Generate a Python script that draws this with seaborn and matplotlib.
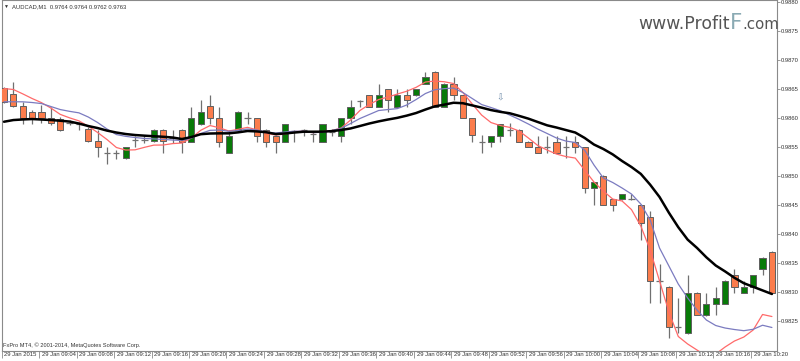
import matplotlib
matplotlib.use("Agg")
import matplotlib.pyplot as plt
import matplotlib.transforms as mtransforms
import numpy as np
import pandas as pd
import seaborn as sns

# ---------------- data ----------------
time_labels = ["29 Jan 2015", "29 Jan 09:04", "29 Jan 09:08", "29 Jan 09:12", "29 Jan 09:16",
               "29 Jan 09:20", "29 Jan 09:24", "29 Jan 09:28", "29 Jan 09:32", "29 Jan 09:36",
               "29 Jan 09:40", "29 Jan 09:44", "29 Jan 09:48", "29 Jan 09:52", "29 Jan 09:56",
               "29 Jan 10:00", "29 Jan 10:04", "29 Jan 10:08", "29 Jan 10:12", "29 Jan 10:16",
               "29 Jan 10:20"]
label_bars = list(range(0, 81, 4))

opens = [0.98651, 0.98641, 0.98620, 0.98610, 0.98610, 0.98599, 0.98598, 0.98591, 0.98589, 0.98580,
         0.98560, 0.98540, 0.98539, 0.98530, 0.98562, 0.98562, 0.98560, 0.98579, 0.98566, 0.98579,
         0.98559, 0.98589, 0.98620, 0.98599, 0.98540, 0.98579, 0.98599, 0.98599, 0.98579, 0.98569,
         0.98559, 0.98578, 0.98579, 0.98573, 0.98559, 0.98576, 0.98569, 0.98599, 0.98629, 0.98639,
         0.98619, 0.98649, 0.98619, 0.98639, 0.98639, 0.98659, 0.98679, 0.98619, 0.98659, 0.98639,
         0.98599, 0.98559, 0.98559, 0.98569, 0.98579, 0.98579, 0.98559, 0.98549, 0.98549, 0.98559,
         0.98549, 0.98559, 0.98549, 0.98479, 0.98500, 0.98460, 0.98460, 0.98461, 0.98450, 0.98430,
         0.98319, 0.98309, 0.98239, 0.98229, 0.98299, 0.98260, 0.98280, 0.98280, 0.98329, 0.98299,
         0.98309, 0.98339, 0.98369]
highs = [0.98653, 0.98661, 0.98628, 0.98613, 0.98622, 0.98619, 0.98602, 0.98596, 0.98593, 0.98585,
         0.98579, 0.98549, 0.98545, 0.98550, 0.98569, 0.98570, 0.98580, 0.98580, 0.98579, 0.98580,
         0.98619, 0.98630, 0.98639, 0.98619, 0.98579, 0.98612, 0.98610, 0.98600, 0.98580, 0.98570,
         0.98590, 0.98579, 0.98580, 0.98576, 0.98590, 0.98580, 0.98600, 0.98630, 0.98630, 0.98640,
         0.98659, 0.98650, 0.98649, 0.98649, 0.98650, 0.98679, 0.98680, 0.98660, 0.98670, 0.98640,
         0.98600, 0.98570, 0.98569, 0.98590, 0.98591, 0.98580, 0.98560, 0.98569, 0.98569, 0.98569,
         0.98569, 0.98569, 0.98550, 0.98490, 0.98501, 0.98461, 0.98469, 0.98469, 0.98451, 0.98440,
         0.98349, 0.98310, 0.98289, 0.98329, 0.98300, 0.98299, 0.98309, 0.98320, 0.98339, 0.98319,
         0.98330, 0.98360, 0.98370]
lows = [0.98626, 0.98619, 0.98589, 0.98589, 0.98591, 0.98588, 0.98578, 0.98588, 0.98579, 0.98559,
        0.98533, 0.98520, 0.98529, 0.98529, 0.98549, 0.98556, 0.98559, 0.98540, 0.98556, 0.98540,
        0.98558, 0.98588, 0.98589, 0.98549, 0.98539, 0.98578, 0.98589, 0.98559, 0.98549, 0.98540,
        0.98558, 0.98559, 0.98569, 0.98559, 0.98558, 0.98569, 0.98559, 0.98589, 0.98619, 0.98619,
        0.98618, 0.98610, 0.98618, 0.98619, 0.98638, 0.98658, 0.98619, 0.98618, 0.98630, 0.98599,
        0.98559, 0.98540, 0.98549, 0.98559, 0.98569, 0.98559, 0.98549, 0.98539, 0.98540, 0.98540,
        0.98530, 0.98540, 0.98470, 0.98450, 0.98450, 0.98440, 0.98459, 0.98459, 0.98390, 0.98281,
        0.98281, 0.98220, 0.98229, 0.98228, 0.98260, 0.98259, 0.98260, 0.98279, 0.98299, 0.98298,
        0.98299, 0.98329, 0.98299]
closes = [0.98628, 0.98620, 0.98599, 0.98600, 0.98600, 0.98591, 0.98579, 0.98591, 0.98589, 0.98560,
          0.98549, 0.98540, 0.98539, 0.98549, 0.98562, 0.98562, 0.98579, 0.98560, 0.98566, 0.98559,
          0.98599, 0.98610, 0.98599, 0.98559, 0.98569, 0.98610, 0.98599, 0.98569, 0.98559, 0.98559,
          0.98589, 0.98578, 0.98579, 0.98573, 0.98589, 0.98576, 0.98599, 0.98619, 0.98629, 0.98619,
          0.98639, 0.98630, 0.98639, 0.98630, 0.98649, 0.98670, 0.98619, 0.98659, 0.98639, 0.98599,
          0.98570, 0.98559, 0.98569, 0.98589, 0.98579, 0.98559, 0.98549, 0.98540, 0.98549, 0.98540,
          0.98549, 0.98549, 0.98479, 0.98490, 0.98450, 0.98450, 0.98469, 0.98461, 0.98419, 0.98319,
          0.98319, 0.98239, 0.98239, 0.98299, 0.98260, 0.98279, 0.98289, 0.98319, 0.98309, 0.98309,
          0.98329, 0.98359, 0.98299]

ma_black = [0.985933, 0.985962, 0.985972, 0.985979, 0.985971, 0.985962, 0.985950, 0.985936, 0.985902, 0.985859,
            0.985824, 0.985780, 0.985747, 0.985721, 0.985704, 0.985693, 0.985683, 0.985674, 0.985661, 0.985635,
            0.985669, 0.985718, 0.985730, 0.985733, 0.985733, 0.985750, 0.985773, 0.985766, 0.985752, 0.985721,
            0.985730, 0.985747, 0.985761, 0.985761, 0.985762, 0.985771, 0.985790, 0.985817, 0.985859, 0.985902,
            0.985939, 0.985971, 0.986000, 0.986038, 0.986083, 0.986143, 0.986198, 0.986227, 0.986260, 0.986252,
            0.986214, 0.986176, 0.986134, 0.986103, 0.986079, 0.986034, 0.985986, 0.985928, 0.985871, 0.985833,
            0.985790, 0.985747, 0.985654, 0.985540, 0.985463, 0.985370, 0.985256, 0.985153, 0.985034, 0.984848,
            0.984636, 0.984365, 0.984116, 0.983902, 0.983759, 0.983597, 0.983456, 0.983354, 0.983244, 0.983151,
            0.983089, 0.983027, 0.982965]
ma_blue = [0.986277, 0.986277, 0.986276, 0.986264, 0.986246, 0.986195, 0.986143, 0.986112, 0.986086, 0.986014,
           0.985919, 0.985807, 0.985712, 0.985681, 0.985661, 0.985645, 0.985637, 0.985628, 0.985618, 0.985609,
           0.985652, 0.985730, 0.985785, 0.985790, 0.985768, 0.985781, 0.985807, 0.985790, 0.985756, 0.985738,
           0.985756, 0.985769, 0.985769, 0.985745, 0.985752, 0.985781, 0.985819, 0.985902, 0.985988, 0.986057,
           0.986126, 0.986143, 0.986159, 0.986221, 0.986315, 0.986419, 0.986484, 0.986503, 0.986513, 0.986436,
           0.986333, 0.986229, 0.986178, 0.986122, 0.986048, 0.985974, 0.985893, 0.985807, 0.985730, 0.985652,
           0.985600, 0.985575, 0.985445, 0.985187, 0.984963, 0.984886, 0.984791, 0.984688, 0.984515, 0.984240,
           0.983757, 0.983447, 0.983137, 0.982896, 0.982689, 0.982517, 0.982422, 0.982379, 0.982353, 0.982333,
           0.982357, 0.982427, 0.982388]
ma_red = [0.986505, 0.986488, 0.986413, 0.986333, 0.986262, 0.986169, 0.986060, 0.986000, 0.985948, 0.985855,
          0.985747, 0.985626, 0.985489, 0.985445, 0.985449, 0.985492, 0.985530, 0.985532, 0.985556, 0.985566,
          0.985652, 0.985785, 0.985867, 0.985829, 0.985773, 0.985802, 0.985836, 0.985794, 0.985733, 0.985704,
          0.985721, 0.985764, 0.985767, 0.985745, 0.985764, 0.985781, 0.985824, 0.985962, 0.986126, 0.986229,
          0.986315, 0.986358, 0.986410, 0.986458, 0.986525, 0.986617, 0.986634, 0.986622, 0.986591, 0.986436,
          0.986238, 0.986048, 0.985919, 0.985867, 0.985836, 0.985773, 0.985652, 0.985523, 0.985445, 0.985376,
          0.985333, 0.985307, 0.985101, 0.984894, 0.984739, 0.984601, 0.984567, 0.984420, 0.984136, 0.983723,
          0.983189, 0.982655, 0.982233, 0.982104, 0.982000, 0.981897, 0.981931, 0.982052, 0.982155, 0.982224,
          0.982345, 0.982612, 0.982577]

price_ticks = [0.9825, 0.9830, 0.9835, 0.9840, 0.9845, 0.9850, 0.9855,
               0.9860, 0.9865, 0.9870, 0.9875, 0.9880]
arrow_bar = 53
arrow_price = 0.98634

header_text = "AUDCAD,M1  0.9764 0.9764 0.9762 0.9763"
copyright_text = "FxPro MT4, \u00a9 2001-2014, MetaQuotes Software Corp."

# ---------------- style ----------------
sns.set_theme(style="white")
plt.rcParams['font.family'] = ['Liberation Sans', 'DejaVu Sans']

UP = "#087a08"
DOWN = "#fb7c4c"
EDGE = "#5f5f5f"
WICK = "#707070"
FRAME = "#8a8a8a"
TXT = "#333333"

fig = plt.figure(figsize=(8, 3.61), dpi=100)
fig.patch.set_facecolor("white")
ax = fig.add_axes([0.0021, 0.0285, 0.969, 0.9705])
ax.set_facecolor("white")

df = pd.DataFrame({"bar": np.arange(len(opens)), "open": opens, "high": highs,
                   "low": lows, "close": closes, "black": ma_black,
                   "blue": ma_blue, "red": ma_red})

# wicks
ax.vlines(df["bar"], df["low"], df["high"], color=WICK, lw=0.9, zorder=2)
# bodies
bull = df["close"] > df["open"]
bear = df["close"] < df["open"]
doji = df["close"] == df["open"]
body_w = 0.66
ax.bar(df.loc[bull, "bar"], (df["close"] - df["open"])[bull], bottom=df.loc[bull, "open"],
       width=body_w, color=UP, edgecolor=EDGE, linewidth=0.7, zorder=3)
ax.bar(df.loc[bear, "bar"], (df["open"] - df["close"])[bear], bottom=df.loc[bear, "close"],
       width=body_w, color=DOWN, edgecolor=EDGE, linewidth=0.7, zorder=3)
ax.hlines(df.loc[doji, "open"], df.loc[doji, "bar"] - body_w / 2, df.loc[doji, "bar"] + body_w / 2,
          color=WICK, lw=0.9, zorder=3)

# moving averages
sns.lineplot(data=df, x="bar", y="red", color="#ff6a6a", lw=0.9, ax=ax, zorder=4)
sns.lineplot(data=df, x="bar", y="blue", color="#7b7bc0", lw=0.9, ax=ax, zorder=4)
sns.lineplot(data=df, x="bar", y="black", color="black", lw=1.8, ax=ax, zorder=5)

# arrow object
ax.text(arrow_bar, arrow_price, "\u21e9", family=["DejaVu Sans"], fontsize=6.5,
        color="#6c8aa8", ha="center", va="center", zorder=6)

ax.set_xlim(-0.07, 82.53)
ax.set_ylim(0.981988, 0.988024)
ax.set_xlabel("")
ax.set_ylabel("")

for s in ax.spines.values():
    s.set_color(FRAME)
    s.set_linewidth(0.8)

ax.yaxis.tick_right()
ax.set_yticks(price_ticks)
ax.set_yticklabels([f"{p:.4f}" for p in price_ticks])
ax.tick_params(axis="y", which="both", right=True, left=False, length=2, width=0.6,
               color=FRAME, labelcolor=TXT, labelsize=4.2, pad=0.6)

ax.set_xticks([b - 0.25 for b in label_bars])
ax.set_xticklabels([])
ax.tick_params(axis="x", which="both", bottom=True, length=5, width=0.6, color=FRAME)
trans = mtransforms.blended_transform_factory(ax.transData, ax.transAxes)
for b, lab in zip(label_bars, time_labels):
    ax.text(b + 0.05, -0.004, lab, transform=trans, ha="left", va="top",
            fontsize=4.2, color=TXT)

# header and footer texts
fig.text(0.0045, 1 - 6.5 / 361, "\u25bc", fontsize=3.6, color=TXT, va="center", ha="left")
fig.text(0.0145, 1 - 6.5 / 361, header_text, fontsize=4.2, color=TXT, va="center", ha="left")
fig.text(0.0042, 1 - 345 / 361, copyright_text, fontsize=4.1, color=TXT, va="center", ha="left")

# watermark
wy = 1 - 29 / 361
fig.text(729.5 / 800, wy, "www.Profit", family=["DejaVu Sans"], fontsize=12.4,
         color="#555555", ha="right", va="baseline")
fig.text(729.5 / 800, wy, "F", family=["DejaVu Sans"], fontsize=15.5,
         color="#8aaab3", ha="left", va="baseline")
fig.text(742.5 / 800, wy, ".com", family=["DejaVu Sans"], fontsize=10.8,
         color="#555555", ha="left", va="baseline")

fig.savefig("out.png", dpi=100, facecolor="white")
